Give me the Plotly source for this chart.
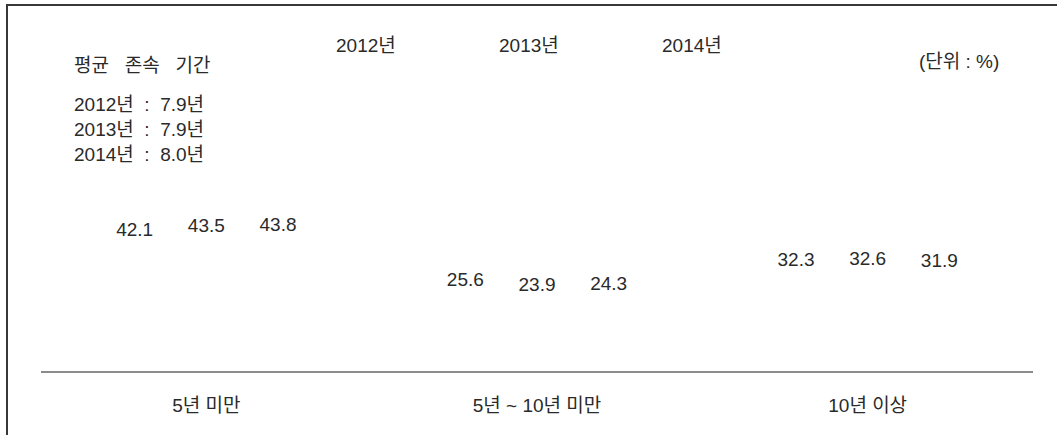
import plotly.graph_objects as go

categories = ["5년 미만", "5년 ~ 10년 미만", "10년 이상"]
years = ["2012년", "2013년", "2014년"]
values_2012 = [42.1, 25.6, 32.3]
values_2013 = [43.5, 23.9, 32.6]
values_2014 = [43.8, 24.3, 31.9]
avg_title = "평균 존속 기간"
avg_duration = [7.9, 7.9, 8.0]
unit_label = "(단위 : %)"

W, H = 1057, 435
L, R, T, B = 41, 24, 100, 64
PW, PH = W - L - R, H - T - B
FONT = "Liberation Sans, Arial, Noto Sans CJK KR, sans-serif"
FS = 19
TXT = "#2a2a2a"
NB2 = "\u00a0\u00a0"


def px(xp):
    return (xp - L) / PW


def py(yp):
    return (H - B - yp) / PH


fig = go.Figure()
for name, vals in zip(years, [values_2012, values_2013, values_2014]):
    fig.add_trace(go.Bar(
        x=categories, y=vals, name=name,
        marker=dict(color="rgba(255,255,255,0)", line=dict(width=0)),
        text=[f"{v:.1f}" for v in vals], textposition="outside",
        textfont=dict(size=FS, color=TXT, family=FONT),
        cliponaxis=False, hoverinfo="skip",
    ))

annotations = [
    dict(text=avg_title.replace(" ", "\u00a0\u00a0\u00a0"), x=px(72), y=py(66),
         xanchor="left", yanchor="middle"),
]
for i, (yr, d) in enumerate(zip(years, avg_duration)):
    annotations.append(dict(text=f"{yr}{NB2}:{NB2}{d:.1f}년", x=px(72), y=py(104 + 25 * i),
                            xanchor="left", yanchor="middle"))
annotations.append(dict(text=unit_label, x=px(917), y=py(62), xanchor="left", yanchor="middle"))
for a in annotations:
    a.update(xref="paper", yref="paper", showarrow=False, font=dict(size=FS, color=TXT, family=FONT))

shapes = [
    dict(type="line", xref="paper", yref="paper", x0=px(7), x1=px(7), y0=py(4), y1=py(440),
         line=dict(color="#383838", width=2)),
    dict(type="line", xref="paper", yref="paper", x0=px(6), x1=px(1060), y0=py(5), y1=py(5),
         line=dict(color="#383838", width=2)),
]

fig.update_layout(
    width=W, height=H,
    margin=dict(l=L, r=R, t=T, b=B),
    paper_bgcolor="white", plot_bgcolor="white",
    barmode="group", bargap=0.35, bargroupgap=0,
    font=dict(family=FONT, size=FS, color=TXT),
    showlegend=True,
    legend=dict(orientation="h", x=px(296), y=py(45), xanchor="left", yanchor="middle",
                entrywidth=118, entrywidthmode="pixels", font=dict(size=FS, color=TXT),
                bgcolor="rgba(0,0,0,0)", itemclick=False, itemdoubleclick=False),
    xaxis=dict(showline=True, linecolor="#8c8c8c", linewidth=2, showgrid=False,
               ticks="outside", ticklen=16, tickcolor="rgba(0,0,0,0)",
               tickfont=dict(size=FS, color=TXT, family=FONT), fixedrange=True),
    yaxis=dict(range=[0, 89], visible=False, showgrid=False, fixedrange=True),
    annotations=annotations,
    shapes=shapes,
)

fig.write_html("out.html", config={"displayModeBar": False, "staticPlot": True},
               post_script="document.body.style.margin='0';")
